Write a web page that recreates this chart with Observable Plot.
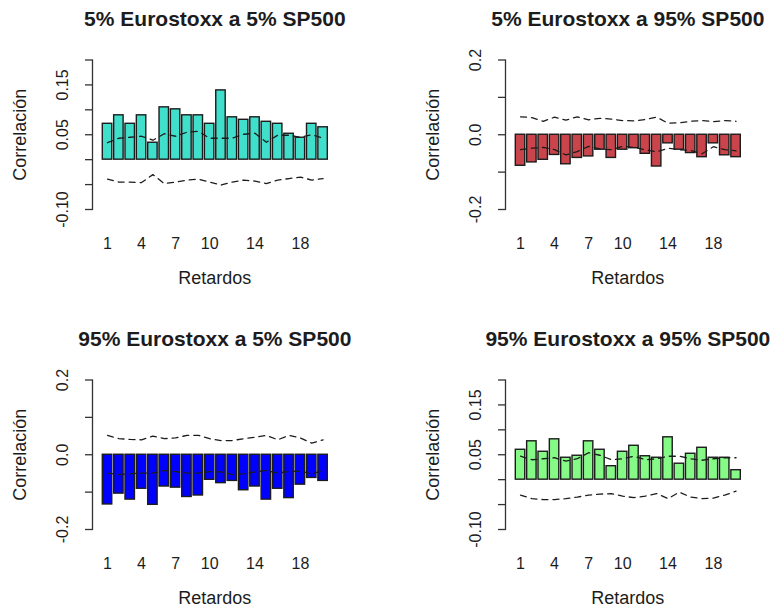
<!DOCTYPE html>
<html>
<head>
<meta charset="utf-8">
<script src="https://cdn.jsdelivr.net/npm/d3@7"></script>
<script src="https://cdn.jsdelivr.net/npm/@observablehq/plot@0.6"></script>
<style>
  html, body { margin: 0; padding: 0; background: #fff; }
  #fig { position: relative; width: 771px; height: 615px; overflow: hidden; background: #fff; }
  #fig svg { position: absolute; }
</style>
</head>
<body>
<div id="fig"></div>
<script>
// Cross-correlation by lag between the Eurostoxx and SP500 tails,
// with the dashed significance bands for each lag.
const lags = d3.range(1, 21);
const xTickLabels = [1, 4, 7, 10, 14, 18];

// 5% Eurostoxx -> 5% SP500
const corr5_5  = [0.072, 0.089, 0.072, 0.089, 0.034, 0.105, 0.101, 0.089, 0.089, 0.072,
                  0.139, 0.085, 0.080, 0.085, 0.076, 0.072, 0.052, 0.044, 0.072, 0.065];
const upper5_5 = [0.034, 0.043, 0.045, 0.047, 0.039, 0.052, 0.047, 0.055, 0.057, 0.043,
                  0.043, 0.043, 0.051, 0.053, 0.035, 0.049, 0.049, 0.045, 0.050, 0.043];
const lower5_5 = [-0.039, -0.045, -0.045, -0.046, -0.030, -0.048, -0.045, -0.041, -0.039, -0.045,
                  -0.051, -0.045, -0.041, -0.043, -0.048, -0.041, -0.038, -0.035, -0.041, -0.038];

// 5% Eurostoxx -> 95% SP500
const corr5_95  = [-0.083, -0.074, -0.067, -0.054, -0.079, -0.062, -0.058, -0.040, -0.062, -0.040,
                   -0.036, -0.051, -0.085, -0.023, -0.040, -0.049, -0.060, -0.023, -0.055, -0.060];
const upper5_95 = [0.048, 0.046, 0.036, 0.047, 0.039, 0.048, 0.040, 0.044, 0.042, 0.038,
                   0.037, 0.041, 0.047, 0.031, 0.032, 0.036, 0.038, 0.035, 0.038, 0.036];
const lower5_95 = [-0.040, -0.036, -0.034, -0.040, -0.054, -0.045, -0.031, -0.038, -0.040, -0.031,
                   -0.034, -0.040, -0.046, -0.036, -0.040, -0.042, -0.051, -0.032, -0.040, -0.043];

// 95% Eurostoxx -> 5% SP500
const corr95_5  = [-0.133, -0.104, -0.120, -0.091, -0.134, -0.085, -0.088, -0.113, -0.109, -0.067,
                   -0.076, -0.070, -0.095, -0.085, -0.120, -0.091, -0.116, -0.080, -0.062, -0.070];
const upper95_5 = [0.052, 0.043, 0.041, 0.040, 0.050, 0.043, 0.045, 0.052, 0.052, 0.043,
                   0.038, 0.038, 0.043, 0.047, 0.052, 0.040, 0.052, 0.045, 0.031, 0.040];
const lower95_5 = [-0.049, -0.053, -0.051, -0.049, -0.049, -0.042, -0.045, -0.049, -0.049, -0.045,
                   -0.046, -0.053, -0.051, -0.046, -0.042, -0.049, -0.045, -0.044, -0.051, -0.042];

// 95% Eurostoxx -> 95% SP500
const corr95_95  = [0.060, 0.077, 0.056, 0.081, 0.044, 0.048, 0.077, 0.060, 0.027, 0.056,
                    0.068, 0.047, 0.044, 0.085, 0.032, 0.052, 0.064, 0.044, 0.044, 0.019];
const upper95_95 = [0.047, 0.040, 0.042, 0.044, 0.037, 0.042, 0.054, 0.049, 0.040, 0.042,
                    0.047, 0.040, 0.042, 0.047, 0.047, 0.042, 0.039, 0.042, 0.044, 0.044];
const lower95_95 = [-0.031, -0.038, -0.040, -0.040, -0.038, -0.035, -0.031, -0.029, -0.028, -0.033,
                    -0.036, -0.033, -0.028, -0.038, -0.025, -0.035, -0.038, -0.037, -0.031, -0.023];

// y axes: tick positions and the labels printed at them ("" = tick only)
const yTicksNarrow = [-0.10, -0.05, 0, 0.05, 0.10, 0.15, 0.20];
const yTextNarrow  = ["-0.10", "", "", "0.05", "", "0.15", ""];
const yTicksWide   = [-0.2, -0.1, 0, 0.1, 0.2];
const yTextWide    = ["-0.2", "", "0.0", "", "0.2"];

const titles = [
  "5% Eurostoxx a 5% SP500",
  "5% Eurostoxx a 95% SP500",
  "95% Eurostoxx a 5% SP500",
  "95% Eurostoxx a 95% SP500"
];
const fills = ["#40DFCB", "#C9444B", "#0000FF", "#86FA86"];
const xLabel = "Retardos";
const yLabel = "Correlación";

const FONT = "'Liberation Sans', Arial, Helvetica, sans-serif";
const INK = "#1c1c1c";

function panel({title, values, upper, lower, fill, yDomain, yTicks, yText, width, height}) {
  const bars = lags.map((lag, i) => ({lag, value: values[i]}));
  const hi = lags.map((lag, i) => ({lag, value: upper[i]}));
  const lo = lags.map((lag, i) => ({lag, value: lower[i]}));
  const tickText = (d) => {
    const i = yTicks.findIndex((t) => Math.abs(t - d) < 1e-9);
    return i < 0 ? "" : yText[i];
  };
  const dash = {stroke: INK, strokeWidth: 1.3, strokeDasharray: "6,5"};
  return Plot.plot({
    width, height,
    marginLeft: 92, marginRight: width - 336.7,
    marginTop: 59.5, marginBottom: height - 209,
    x: {type: "band", domain: lags, paddingInner: 1 / 6, paddingOuter: 0,
        insetLeft: 10.3, insetRight: 9.4, round: false},
    y: {domain: yDomain},
    style: {fontFamily: FONT, fontSize: "16px", color: INK, background: "transparent", overflow: "visible"},
    marks: [
      Plot.barY(bars, {x: "lag", y: "value", fill, stroke: INK, strokeWidth: 1.4}),
      Plot.lineY(hi, {x: "lag", y: "value", ...dash}),
      Plot.lineY(lo, {x: "lag", y: "value", ...dash}),
      Plot.frame({anchor: "left", stroke: "#333", strokeWidth: 1.3}),
      Plot.axisY({ticks: yTicks, tickFormat: tickText, tickSize: 7, tickPadding: 18,
                  tickRotate: -90, label: null, stroke: "#333", strokeWidth: 1.3,
                  fill: INK, fontSize: 16}),
      Plot.axisX({ticks: xTickLabels, tickSize: 0, tickPadding: 28, label: null,
                  fill: INK, fontSize: 16}),
      Plot.text([title], {frameAnchor: "top", lineAnchor: "bottom", dy: -34,
                          fontSize: 21, fontWeight: "bold", fill: INK}),
      Plot.text([xLabel], {frameAnchor: "bottom", lineAnchor: "bottom", dy: 74,
                           fontSize: 18, fill: INK}),
      Plot.text([yLabel], {frameAnchor: "left", textAnchor: "middle", rotate: -90,
                           lineAnchor: "bottom", dx: -67, fontSize: 18, fill: INK})
    ]
  });
}

const fig = document.getElementById("fig");
const layout = [
  {left: 0,   top: 0,   width: 413, height: 320, values: corr5_5,   upper: upper5_5,   lower: lower5_5,   narrow: true},
  {left: 413, top: 0,   width: 358, height: 320, values: corr5_95,  upper: upper5_95,  lower: lower5_95,  narrow: false},
  {left: 0,   top: 320, width: 413, height: 295, values: corr95_5,  upper: upper95_5,  lower: lower95_5,  narrow: false},
  {left: 413, top: 320, width: 358, height: 295, values: corr95_95, upper: upper95_95, lower: lower95_95, narrow: true}
];

layout.forEach((p, k) => {
  const svg = panel({
    title: titles[k],
    values: p.values, upper: p.upper, lower: p.lower,
    fill: fills[k],
    yDomain: p.narrow ? [-0.10, 0.20] : [-0.2, 0.2],
    yTicks: p.narrow ? yTicksNarrow : yTicksWide,
    yText: p.narrow ? yTextNarrow : yTextWide,
    width: p.width, height: p.height
  });
  svg.style.left = p.left + "px";
  svg.style.top = p.top + "px";
  fig.appendChild(svg);
});
</script>
</body>
</html>
